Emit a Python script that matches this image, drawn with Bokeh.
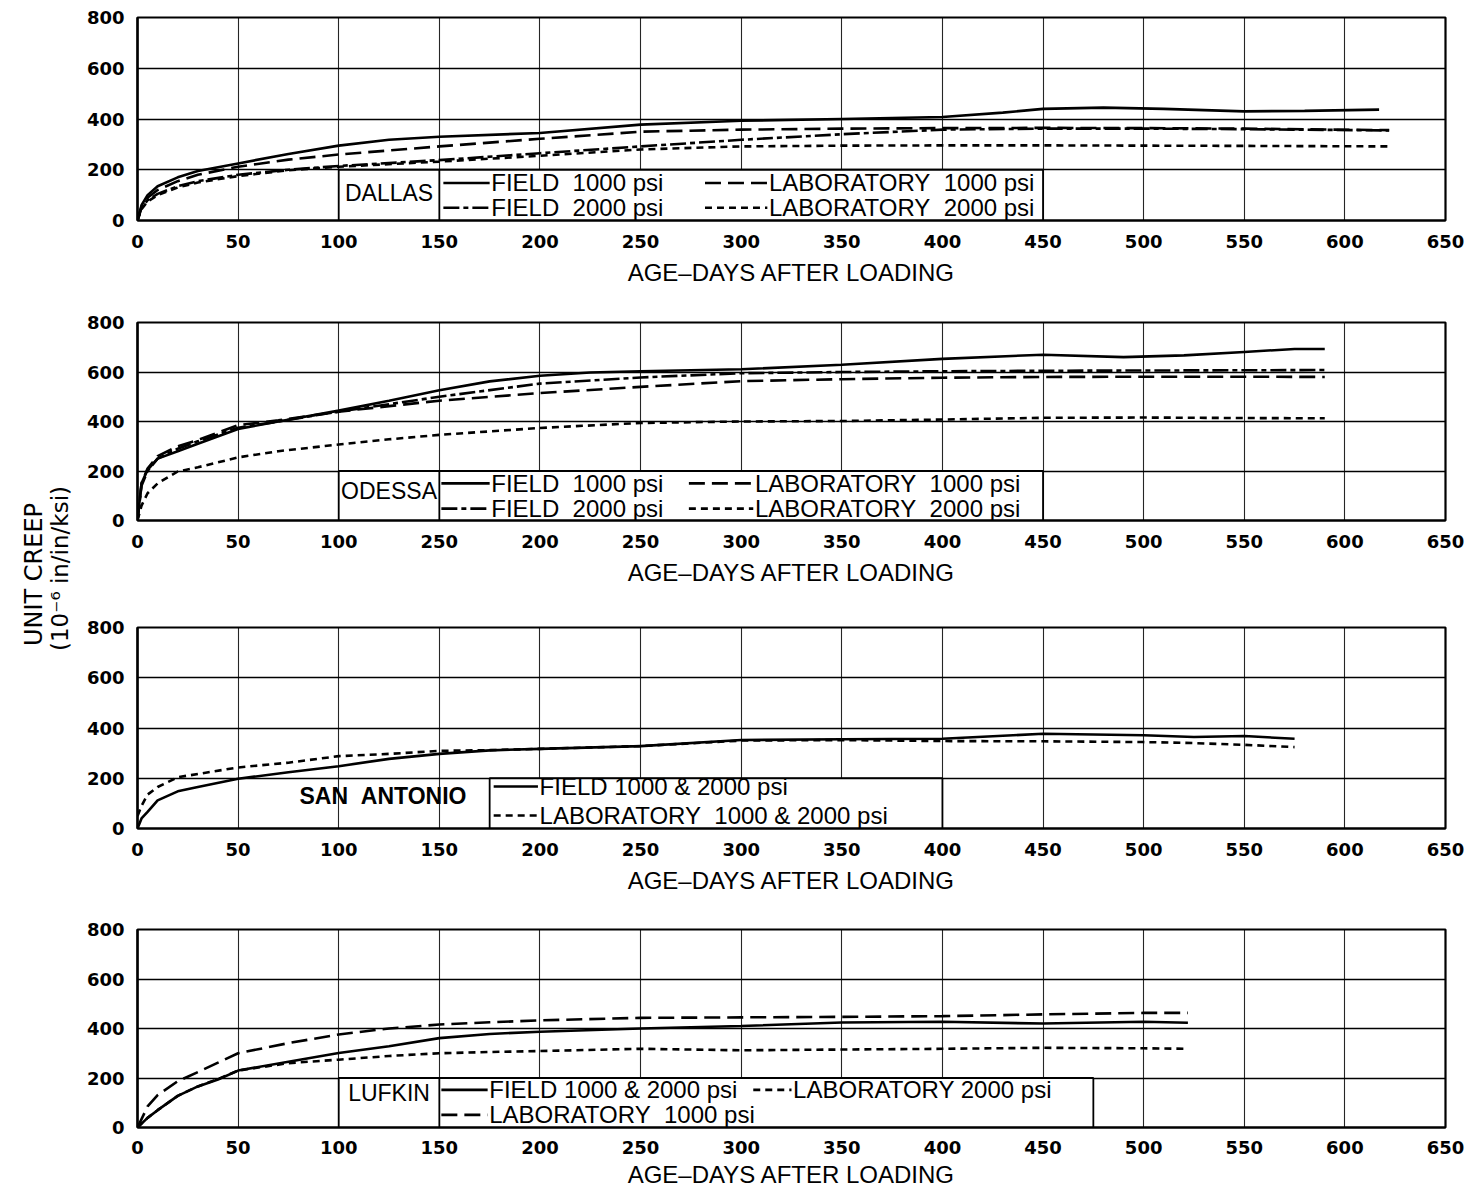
import math
from bokeh.plotting import figure
from bokeh.models import Range1d, FixedTicker
from bokeh.layouts import row, column
from bokeh.core.properties import value
from bokeh.embed import file_html
from bokeh.resources import INLINE

# ---------------- data ----------------
X_TICKS = list(range(0, 651, 50))
Y_TICKS = [0, 200, 400, 600, 800]
X_LABEL = "AGE\u2013DAYS AFTER LOADING"
Y_LABEL_1 = "UNIT CREEP"
Y_LABEL_2 = "(10\u207b\u2076 in/in/ksi)"
ODESSA_TICK_LABELS = {150: "250"}   # as printed in the original

# Dallas
DAL_F1_DAYS = [0, 2, 5, 10, 20, 30, 50, 75, 100, 125, 150, 200, 250, 300, 350, 400, 430, 450, 480, 510, 550, 580, 617]
DAL_F1 = [0, 60, 100, 135, 170, 195, 225, 262, 295, 318, 330, 345, 378, 393, 400, 408, 425, 440, 445, 440, 430, 432, 437]
DAL_DAYS = [0, 2, 5, 10, 20, 30, 50, 75, 100, 150, 200, 250, 300, 350, 400, 450, 500, 550, 622]
DAL_F2 = [0, 50, 80, 105, 135, 155, 180, 200, 215, 238, 265, 292, 318, 340, 358, 362, 362, 360, 355]
DAL_L1 = [0, 55, 90, 120, 155, 180, 212, 240, 260, 292, 322, 350, 358, 362, 364, 365, 364, 362, 356]
DAL_L2 = [0, 45, 75, 100, 130, 150, 175, 198, 212, 232, 255, 280, 292, 295, 296, 296, 295, 294, 292]

# Odessa
ODE_F1_DAYS = [0, 2, 5, 10, 20, 30, 50, 70, 100, 125, 150, 175, 200, 225, 250, 300, 350, 400, 450, 490, 520, 550, 575, 590]
ODE_F1 = [0, 150, 205, 250, 280, 310, 370, 400, 444, 484, 526, 562, 585, 598, 603, 611, 629, 653, 670, 660, 667, 681, 693, 693]
ODE_DAYS = [0, 2, 5, 10, 20, 30, 50, 70, 100, 125, 150, 200, 250, 300, 350, 400, 450, 500, 550, 590]
ODE_F2 = [0, 140, 200, 250, 290, 320, 375, 400, 440, 470, 500, 553, 578, 595, 600, 603, 605, 606, 607, 608]
ODE_L1 = [0, 150, 210, 260, 300, 325, 385, 405, 440, 462, 484, 515, 540, 563, 571, 577, 580, 581, 581, 580]
ODE_L2 = [0, 60, 110, 150, 198, 215, 255, 280, 307, 328, 346, 374, 394, 400, 402, 408, 415, 416, 414, 413]

# San Antonio
SA_DAYS = [0, 2, 5, 10, 20, 30, 50, 75, 100, 125, 150, 175, 200, 250, 300, 350, 400, 450, 500, 525, 550, 575]
SA_F = [0, 40, 66, 112, 148, 165, 198, 224, 248, 277, 297, 311, 317, 328, 352, 355, 357, 377, 371, 364, 368, 357]
SA_L = [50, 90, 135, 165, 204, 217, 243, 262, 288, 297, 309, 312, 317, 328, 350, 352, 348, 347, 344, 340, 333, 324]

# Lufkin
LUF_DAYS = [0, 5, 10, 20, 30, 40, 50, 75, 100, 125, 150, 175, 200, 250, 300, 350, 400, 450, 500, 522]
LUF_F = [0, 39, 70, 128, 166, 194, 230, 266, 301, 328, 361, 378, 387, 400, 410, 424, 427, 420, 427, 423]
LUF_L1 = [0, 85, 131, 187, 224, 262, 300, 341, 376, 400, 416, 425, 433, 443, 445, 447, 450, 457, 463, 463]
LUF_L2 = [0, 39, 70, 128, 166, 196, 230, 260, 274, 289, 300, 305, 309, 318, 312, 315, 318, 322, 320, 318]

# ---------------- styles ----------------
SOLID = "solid"
DASHDOT = "16 4 5 4"
LONGDASH = "16 7"
SHORTDASH = "7 5"
FONT = "Liberation Sans"
TICK_FONT = "DejaVu Sans"
LEG_SIZE = "24px"
LW = 2.6
SP = "\u00a0"


def draw_legend(p, lg):
    x0, x1 = lg["box"]
    p.quad(left=[x0], right=[x1], bottom=[0], top=[200], fill_color="white",
           line_color="black", line_width=1.8)
    if lg.get("divider") is not None:
        d = lg["divider"]
        p.line([d, d], [0, 200], line_color="black", line_width=1.8)
    p.text(x=[lg["label_xy"][0]], y=[lg["label_xy"][1]], text=[lg["label"]],
           text_align="center", text_baseline="middle", text_font=value(FONT),
           text_font_size=lg.get("label_size", "23px"),
           text_font_style=lg.get("label_style", "normal"), text_color="black")
    for xa, xb, y, dash, txt in lg["entries"]:
        p.line([xa, xb], [y, y], line_color="black", line_width=LW, line_dash=dash)
        p.text(x=[xb + 0.8], y=[y], text=[txt], text_align="left", text_baseline="middle",
               text_font=value(FONT), text_font_size=LEG_SIZE, text_color="black")


def make_panel(h, top, bottom, series, legend, overrides=None, lab_standoff=8, tick_standoff=8):
    p = figure(width=1387, height=h, x_range=Range1d(0, 650), y_range=Range1d(0, 800),
               toolbar_location=None, output_backend="svg",
               min_border_left=59, min_border_right=20, min_border_top=top,
               min_border_bottom=bottom)
    p.background_fill_color = "white"
    p.border_fill_color = "white"
    p.outline_line_color = "black"
    p.outline_line_width = 2.2
    p.xaxis.ticker = FixedTicker(ticks=X_TICKS)
    p.yaxis.ticker = FixedTicker(ticks=Y_TICKS)
    if overrides:
        p.xaxis.major_label_overrides = overrides
    for ax in (p.xaxis, p.yaxis):
        ax.major_tick_line_color = None
        ax.minor_tick_line_color = None
        ax.axis_line_color = "black"
        ax.axis_line_width = 2.2
        ax.major_label_text_font = TICK_FONT
        ax.major_label_text_font_size = "18px"
        ax.major_label_text_font_style = "bold"
        ax.major_label_text_color = "black"
    p.xaxis.major_label_standoff = tick_standoff
    p.yaxis.major_label_standoff = 7
    p.xaxis.axis_label = X_LABEL
    p.xaxis.axis_label_text_font = FONT
    p.xaxis.axis_label_text_font_size = "24px"
    p.xaxis.axis_label_text_font_style = "normal"
    p.xaxis.axis_label_text_color = "black"
    p.xaxis.axis_label_standoff = lab_standoff
    p.xgrid.ticker = FixedTicker(ticks=X_TICKS)
    p.ygrid.ticker = FixedTicker(ticks=Y_TICKS)
    p.xgrid.grid_line_color = "black"
    p.xgrid.grid_line_width = 1.1
    p.xgrid.grid_line_alpha = 0.85
    p.ygrid.grid_line_color = "black"
    p.ygrid.grid_line_width = 1.6
    for xs, ys, dash in series:
        p.line(xs, ys, line_color="black", line_width=LW, line_dash=dash)
    draw_legend(p, legend)
    return p


dallas_leg = dict(box=(100, 450), divider=150, label="DALLAS", label_xy=(125, 110),
                  entries=[(152, 175, 148, SOLID, "FIELD" + SP * 2 + "1000 psi"),
                           (152, 175, 50, DASHDOT, "FIELD" + SP * 2 + "2000 psi"),
                           (282, 313, 148, LONGDASH, "LABORATORY" + SP * 2 + "1000 psi"),
                           (282, 313, 50, SHORTDASH, "LABORATORY" + SP * 2 + "2000 psi")])
odessa_leg = dict(box=(100, 450), divider=150, label="ODESSA", label_xy=(125, 120),
                  entries=[(151, 175, 150, SOLID, "FIELD" + SP * 2 + "1000 psi"),
                           (151, 175, 48, DASHDOT, "FIELD" + SP * 2 + "2000 psi"),
                           (274, 306, 150, LONGDASH, "LABORATORY" + SP * 2 + "1000 psi"),
                           (274, 306, 48, SHORTDASH, "LABORATORY" + SP * 2 + "2000 psi")])
sa_leg = dict(box=(175, 400), divider=None, label="SAN" + SP * 2 + "ANTONIO", label_xy=(122, 128),
              label_style="bold", label_size="23px",
              entries=[(177, 199, 167, SOLID, "FIELD 1000 & 2000 psi"),
                       (177, 199, 52, SHORTDASH, "LABORATORY" + SP * 2 + "1000 & 2000 psi")])
lufkin_leg = dict(box=(100, 475), divider=150, label="LUFKIN", label_xy=(125, 140),
                  entries=[(151, 174, 152, SOLID, "FIELD 1000 & 2000 psi"),
                           (306, 325, 152, SHORTDASH, "LABORATORY 2000 psi"),
                           (151, 174, 51, LONGDASH, "LABORATORY" + SP * 2 + "1000 psi")])

p1 = make_panel(313, 17, 93,
                [(DAL_F1_DAYS, DAL_F1, SOLID), (DAL_DAYS, DAL_F2, DASHDOT),
                 (DAL_DAYS, DAL_L1, LONGDASH), (DAL_DAYS, DAL_L2, SHORTDASH)], dallas_leg)
p2 = make_panel(305, 9, 98,
                [(ODE_F1_DAYS, ODE_F1, SOLID), (ODE_DAYS, ODE_F2, DASHDOT),
                 (ODE_DAYS, ODE_L1, LONGDASH), (ODE_DAYS, ODE_L2, SHORTDASH)], odessa_leg,
                overrides=ODESSA_TICK_LABELS)
p3 = make_panel(302, 9, 92,
                [(SA_DAYS, SA_F, SOLID), (SA_DAYS, SA_L, SHORTDASH)], sa_leg)
p4 = make_panel(270, 9, 56,
                [(LUF_DAYS, LUF_F, SOLID), (LUF_DAYS, LUF_L1, LONGDASH),
                 (LUF_DAYS, LUF_L2, SHORTDASH)], lufkin_leg, lab_standoff=4, tick_standoff=7)

TOTAL_H = 313 + 305 + 302 + 270
lab = figure(width=78, height=TOTAL_H, x_range=Range1d(0, 78), y_range=Range1d(0, TOTAL_H),
             toolbar_location=None, output_backend="svg", min_border=0,
             x_axis_location=None, y_axis_location=None)
lab.outline_line_color = None
lab.grid.visible = False
lab.text(x=[33], y=[TOTAL_H - 574], text=[Y_LABEL_1], angle=math.pi / 2, text_align="center",
         text_baseline="middle", text_font=value("DejaVu Sans"), text_font_size="24px",
         text_color="black")
lab.text(x=[59], y=[TOTAL_H - 568], text=[Y_LABEL_2], angle=math.pi / 2, text_align="center",
         text_baseline="middle", text_font=value("DejaVu Sans"), text_font_size="23px",
         text_color="black")

layout = row(lab, column(p1, p2, p3, p4))
open("out.html", "w").write(file_html(layout, INLINE))
